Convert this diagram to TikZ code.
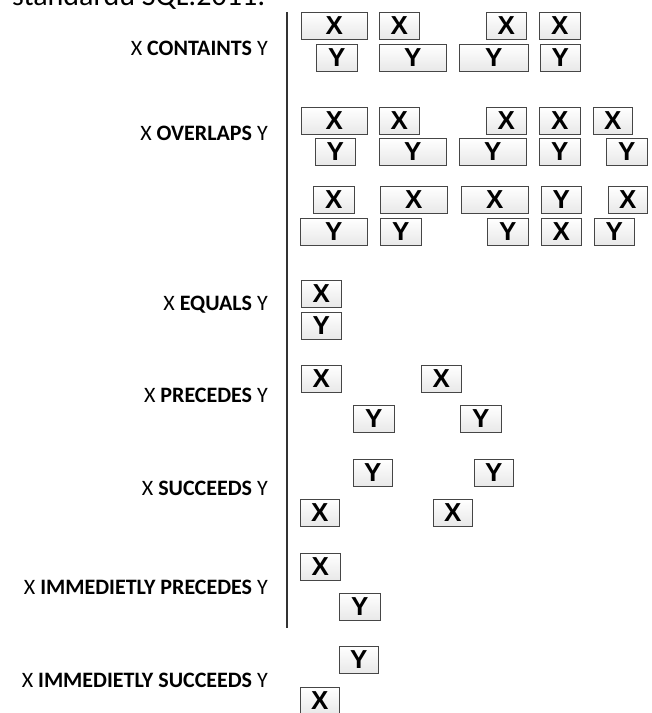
\documentclass[tikz,border=0pt]{standalone}
\usepackage{fontspec}
\setmainfont{Carlito}
\newfontfamily\segfont{Liberation Sans}

\tikzset{
    seg/.style={draw=gray!55!black, line width=0.8pt, top color=white, bottom color=gray!18,
        anchor=north west, minimum height=27pt, inner sep=0pt,
        font=\segfont\bfseries\fontsize{26}{26}\selectfont},
    rel/.style={anchor=east, inner sep=0pt, font=\fontsize{22}{24}\selectfont}
}

\begin{document}
\begin{tikzpicture}[x=1pt, y=-1pt]
    \useasboundingbox (0,0) rectangle (652,713);

    % Heading (cut off at the top)
    \node[anchor=base west, inner sep=0pt, font=\fontsize{30}{31}\selectfont] (head) at (12,5) {standardu SQL:2011:};

    % Separator
    \coordinate (top) at (287,12);
    \coordinate (bot) at (287,628);
    \draw[line width=2pt, gray!40!black] (top) -- (bot);

    % Relation names
    \node[rel] (lcont) at (268,48)  {X \textbf{CONTAINTS} Y};
    \node[rel] (lover) at (268,133) {X \textbf{OVERLAPS} Y};
    \node[rel] (lequ)  at (268,305) {X \textbf{EQUALS} Y};
    \node[rel] (lprec) at (268,395) {X \textbf{PRECEDES} Y};
    \node[rel] (lsucc) at (268,488) {X \textbf{SUCCEEDS} Y};
    \node[rel] (liprec) at (268,587) {X \textbf{IMMEDIETLY PRECEDES} Y};
    \node[rel] (lisucc) at (268,680) {X \textbf{IMMEDIETLY SUCCEEDS} Y};

    % CONTAINTS
    \node[seg, minimum width=66pt] (cx1) at (301,12) {X};
    \node[seg, minimum width=40pt] (cx2) at (379,12) {X};
    \node[seg, minimum width=40pt] (cx3) at (486,12) {X};
    \node[seg, minimum width=41pt] (cx4) at (539,12) {X};
    \node[seg, minimum width=41pt] (cy1) at (316,44) {Y};
    \node[seg, minimum width=67pt] (cy2) at (379,44) {Y};
    \node[seg, minimum width=69pt] (cy3) at (459,44) {Y};
    \node[seg, minimum width=40pt] (cy4) at (540,44) {Y};

    % OVERLAPS, first row
    \node[seg, minimum width=66pt] (ox1) at (301,107) {X};
    \node[seg, minimum width=40pt] (ox2) at (379,107) {X};
    \node[seg, minimum width=40pt] (ox3) at (486,107) {X};
    \node[seg, minimum width=41pt] (ox4) at (539,107) {X};
    \node[seg, minimum width=39pt] (ox5) at (593,107) {X};
    \node[seg, minimum width=40pt] (oy1) at (315,138) {Y};
    \node[seg, minimum width=67pt] (oy2) at (379,138) {Y};
    \node[seg, minimum width=67pt] (oy3) at (459,138) {Y};
    \node[seg, minimum width=41pt] (oy4) at (539,138) {Y};
    \node[seg, minimum width=41pt] (oy5) at (606,138) {Y};

    % OVERLAPS, second row
    \node[seg, minimum width=41pt] (pa1) at (313,186) {X};
    \node[seg, minimum width=67pt] (pa2) at (380,186) {X};
    \node[seg, minimum width=67pt] (pa3) at (461,186) {X};
    \node[seg, minimum width=40pt] (pa4) at (541,186) {Y};
    \node[seg, minimum width=39pt] (pa5) at (608,186) {X};
    \node[seg, minimum width=67pt] (pb1) at (300,218) {Y};
    \node[seg, minimum width=41pt] (pb2) at (380,218) {Y};
    \node[seg, minimum width=41pt] (pb3) at (487,218) {Y};
    \node[seg, minimum width=40pt] (pb4) at (541,218) {X};
    \node[seg, minimum width=40pt] (pb5) at (594,218) {Y};

    % EQUALS
    \node[seg, minimum width=40pt] (ex) at (301,280) {X};
    \node[seg, minimum width=40pt] (ey) at (301,312) {Y};

    % PRECEDES
    \node[seg, minimum width=40pt] (px1) at (301,365) {X};
    \node[seg, minimum width=40pt] (px2) at (421,365) {X};
    \node[seg, minimum width=41pt] (py1) at (353,405) {Y};
    \node[seg, minimum width=41pt] (py2) at (460,405) {Y};

    % SUCCEEDS
    \node[seg, minimum width=39pt] (sy1) at (353,459) {Y};
    \node[seg, minimum width=39pt] (sy2) at (474,459) {Y};
    \node[seg, minimum width=39pt] (sx1) at (300,499) {X};
    \node[seg, minimum width=39pt] (sx2) at (433,499) {X};

    % IMMEDIETLY PRECEDES
    \node[seg, minimum width=40pt] (ipx) at (300,553) {X};
    \node[seg, minimum width=41pt] (ipy) at (339,593) {Y};

    % IMMEDIETLY SUCCEEDS
    \node[seg, minimum width=39pt] (isy) at (339,646) {Y};
    \node[seg, minimum width=39pt] (isx) at (300,687) {X};
\end{tikzpicture}
\end{document}
